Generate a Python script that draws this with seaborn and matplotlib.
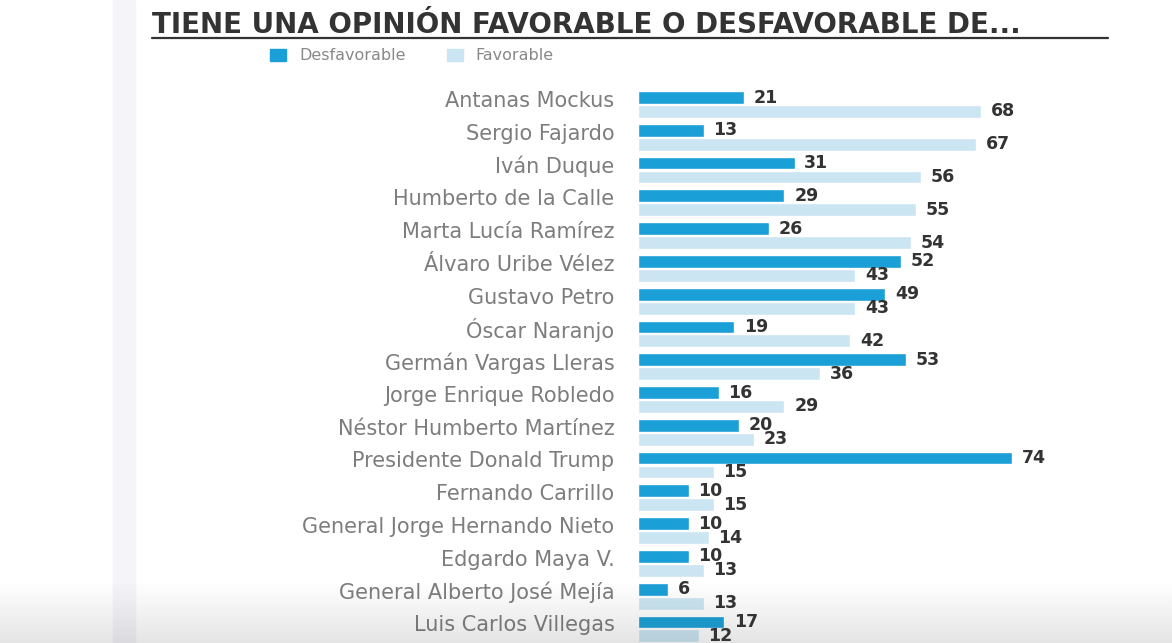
import numpy as np
import pandas as pd
import matplotlib
matplotlib.use('Agg')
import matplotlib.pyplot as plt
import matplotlib.transforms as mtransforms
import seaborn as sns
from matplotlib.patches import Rectangle
from matplotlib.lines import Line2D

# ==================== 数据 ====================
nombres = ['Antanas Mockus', 'Sergio Fajardo', 'Iván Duque', 'Humberto de la Calle',
           'Marta Lucía Ramírez', 'Álvaro Uribe Vélez', 'Gustavo Petro', 'Óscar Naranjo',
           'Germán Vargas Lleras', 'Jorge Enrique Robledo', 'Néstor Humberto Martínez',
           'Presidente Donald Trump', 'Fernando Carrillo', 'General Jorge Hernando Nieto',
           'Edgardo Maya V.', 'General Alberto José Mejía', 'Luis Carlos Villegas']
desfavorable = [21, 13, 31, 29, 26, 52, 49, 19, 53, 16, 20, 74, 10, 10, 10, 6, 17]
favorable = [68, 67, 56, 55, 54, 43, 43, 42, 36, 29, 23, 15, 15, 14, 13, 13, 12]
series = ['Desfavorable', 'Favorable']
colores = ['#1a9fd6', '#cbe6f2']
titulo = 'TIENE UNA OPINIÓN FAVORABLE O DESFAVORABLE DE...'

df = pd.DataFrame({
    'nombre': nombres * 2,
    'opinion': [series[0]] * len(nombres) + [series[1]] * len(nombres),
    'valor': desfavorable + favorable,
})

sns.set_style('white')
plt.rcParams['font.family'] = ['DejaVu Sans']

W, H = 1172, 643
fig = plt.figure(figsize=(W / 100, H / 100), dpi=100)

# eje principal (posición en píxeles de la referencia)
top_px = 88.1
ax = fig.add_axes([638 / W, 0, 505 / W, (H - top_px) / H])

sns.barplot(data=df, y='nombre', x='valor', hue='opinion', hue_order=series,
            order=nombres, palette=colores, orient='h', width=0.85, gap=0.08,
            saturation=1, ax=ax)

ax.set_xlim(0, 100)
ax.set_ylim(16.43, -0.5)
ax.set_xlabel('')
ax.set_ylabel('')
ax.set_xticks([])
for s in ax.spines.values():
    s.set_visible(False)
ax.tick_params(axis='y', length=0, pad=17, labelsize=15, labelcolor='#7d7d7d')
desplaza = mtransforms.ScaledTranslation(0, 4 / 72, fig.dpi_scale_trans)
for lbl in ax.get_yticklabels():
    lbl.set_transform(lbl.get_transform() + desplaza)

for cont in ax.containers:
    ax.bar_label(cont, padding=7, fontsize=12.5, fontweight='bold', color='#333333')

# leyenda
handles = [Rectangle((0, 0), 1, 1, color=c) for c in colores]
ax.get_legend().remove()
fig.legend(handles, series, loc='center', bbox_to_anchor=(412 / W, 1 - 56 / H),
           ncol=2, frameon=False, fontsize=11.5, labelcolor='#888888',
           handlelength=1.0, handleheight=0.7, columnspacing=2.6, handletextpad=0.8)

# título subrayado
fig.text(152 / W, 1 - 33 / H, titulo, fontsize=20, color='#333333',
         fontweight='bold', ha='left', va='baseline')
fig.add_artist(Line2D([152 / W, 1108 / W], [1 - 38 / H, 1 - 38 / H],
                      color='#333333', linewidth=1.6))

# franja lateral tenue
fig.add_artist(Rectangle((113 / W, 0), 22 / W, 1, transform=fig.transFigure,
                         color='#f4f4f9', zorder=-1))

# degradado gris inferior
grad_h = 62
gax = fig.add_axes([0, 0, 1, grad_h / H], zorder=10)
alpha = np.linspace(0, 0.13, 50)[:, None]
rgba = np.zeros((50, 2, 4))
rgba[..., :3] = 0.2
rgba[..., 3] = alpha
gax.imshow(rgba, aspect='auto', origin='upper', extent=[0, 1, 0, 1])
gax.axis('off')

plt.savefig('out.png', dpi=100)
